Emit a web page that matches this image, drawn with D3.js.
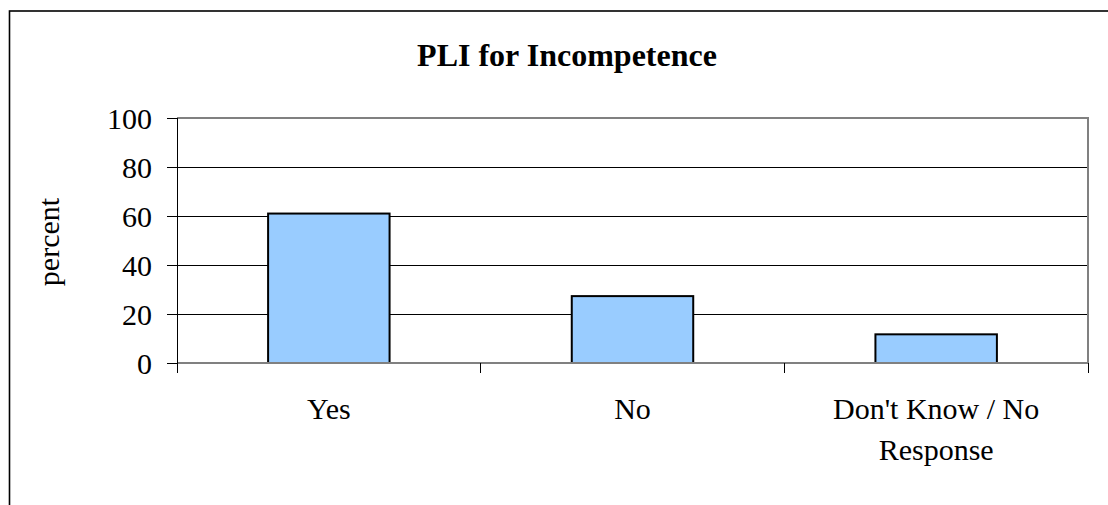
<!DOCTYPE html>
<html>
<head>
<meta charset="utf-8">
<script src="https://cdn.jsdelivr.net/npm/d3@7"></script>
<style>
  body { margin: 0; background: #fff; }
  text { font-family: "Liberation Serif", "Times New Roman", serif; fill: #000; }
  line { shape-rendering: crispEdges; }
</style>
</head>
<body>
<script>
// chart data
var categories = ["Yes", "No", "Don't Know / No Response"];
var percents = [61, 27.3, 11.7];
var yTicks = [0, 20, 40, 60, 80, 100];
var chartTitle = "PLI for Incompetence";
var yTitle = "percent";

var svgWidth = 1108;
var svgHeight = 505;

var margin = { top: 118, right: 20, bottom: 142, left: 177 };
var width = 1088 - margin.left;
var height = 363 - margin.top;

var svg = d3.select("body")
  .append("svg")
  .attr("width", svgWidth)
  .attr("height", svgHeight);

// outer chart border (right and bottom edges run off the page)
svg.append("rect")
  .attr("x", 9.5)
  .attr("y", 11)
  .attr("width", svgWidth + 20)
  .attr("height", svgHeight + 20)
  .attr("fill", "#fff")
  .attr("stroke", "#000")
  .attr("stroke-width", 1.6);

var chartGroup = svg.append("g")
  .attr("transform", `translate(${margin.left}, ${margin.top})`);

var xScale = d3.scaleBand()
  .domain(categories)
  .range([0, width])
  .padding(0);

var yScale = d3.scaleLinear()
  .domain([0, 100])
  .range([height, 0]);

// gridlines
chartGroup.selectAll(".grid")
  .data(yTicks.filter(d => d > 0 && d < 100))
  .enter()
  .append("line")
  .attr("x1", 0)
  .attr("x2", width)
  .attr("y1", d => yScale(d))
  .attr("y2", d => yScale(d))
  .attr("stroke", "#000")
  .attr("stroke-width", 1);

// plot frame: top + right gray
chartGroup.append("path")
  .attr("d", `M0,${yScale(100)}H${width}V${yScale(0)}`)
  .attr("fill", "none")
  .attr("stroke", "#808080")
  .attr("stroke-width", 2);

// bars
var barFrac = 0.4;
chartGroup.selectAll(".bar")
  .data(percents)
  .enter()
  .append("rect")
  .attr("x", (d, i) => xScale(categories[i]) + xScale.bandwidth() * (1 - barFrac) / 2)
  .attr("y", d => yScale(d))
  .attr("width", xScale.bandwidth() * barFrac)
  .attr("height", d => yScale(0) - yScale(d))
  .attr("fill", "#99ccff")
  .attr("stroke", "#000")
  .attr("stroke-width", 2);

// baseline
chartGroup.append("line")
  .attr("x1", 0).attr("x2", width)
  .attr("y1", yScale(0)).attr("y2", yScale(0))
  .attr("stroke", "#808080")
  .attr("stroke-width", 2);

// y axis
var leftAxis = d3.axisLeft(yScale)
  .tickValues(yTicks)
  .tickSizeInner(10)
  .tickSizeOuter(0)
  .tickPadding(15);

var yAxis = chartGroup.append("g").call(leftAxis);
yAxis.select(".domain").remove();
yAxis.selectAll("line").attr("stroke", "#000");
yAxis.selectAll("text")
  .style("font-family", "'Liberation Serif', 'Times New Roman', serif")
  .style("font-size", "30px")
  .attr("dy", "0.34em");

chartGroup.append("line")
  .attr("x1", 0).attr("x2", 0)
  .attr("y1", 0).attr("y2", height + 10)
  .attr("stroke", "#000")
  .attr("stroke-width", 1);

// x ticks at category boundaries
var bounds = categories.map(c => xScale(c)).concat([width]);
chartGroup.selectAll(".xtick")
  .data(bounds.slice(1))
  .enter()
  .append("line")
  .attr("x1", d => d).attr("x2", d => d)
  .attr("y1", height).attr("y2", height + 10)
  .attr("stroke", "#000")
  .attr("stroke-width", 1);

// x labels
var xLabels = chartGroup.selectAll(".xlabel")
  .data(categories)
  .enter()
  .append("text")
  .attr("x", d => xScale(d) + xScale.bandwidth() / 2)
  .attr("y", height + 56)
  .attr("text-anchor", "middle")
  .style("font-size", "30px")
  .text(d => d);

xLabels.call(wrap, xScale.bandwidth() * 0.85);

function wrap(texts, maxWidth) {
  texts.each(function() {
    var text = d3.select(this);
    var words = text.text().split(/\s+/);
    var x = text.attr("x");
    var y = text.attr("y");
    text.text(null);
    var line = [];
    var lineNo = 0;
    var tspan = text.append("tspan").attr("x", x).attr("y", y);
    words.forEach(function(w) {
      line.push(w);
      tspan.text(line.join(" "));
      if (tspan.node().getComputedTextLength() > maxWidth && line.length > 1) {
        line.pop();
        tspan.text(line.join(" "));
        line = [w];
        lineNo++;
        tspan = text.append("tspan").attr("x", x)
          .attr("y", +y + lineNo * 41).text(w);
      }
    });
  });
}

// y axis title
svg.append("text")
  .attr("transform", "translate(59, 242) rotate(-90)")
  .attr("text-anchor", "middle")
  .style("font-size", "30px")
  .text(yTitle);

// chart title
svg.append("text")
  .attr("x", 567)
  .attr("y", 66)
  .attr("text-anchor", "middle")
  .style("font-size", "32px")
  .style("font-weight", "bold")
  .text(chartTitle);
</script>
</body>
</html>
